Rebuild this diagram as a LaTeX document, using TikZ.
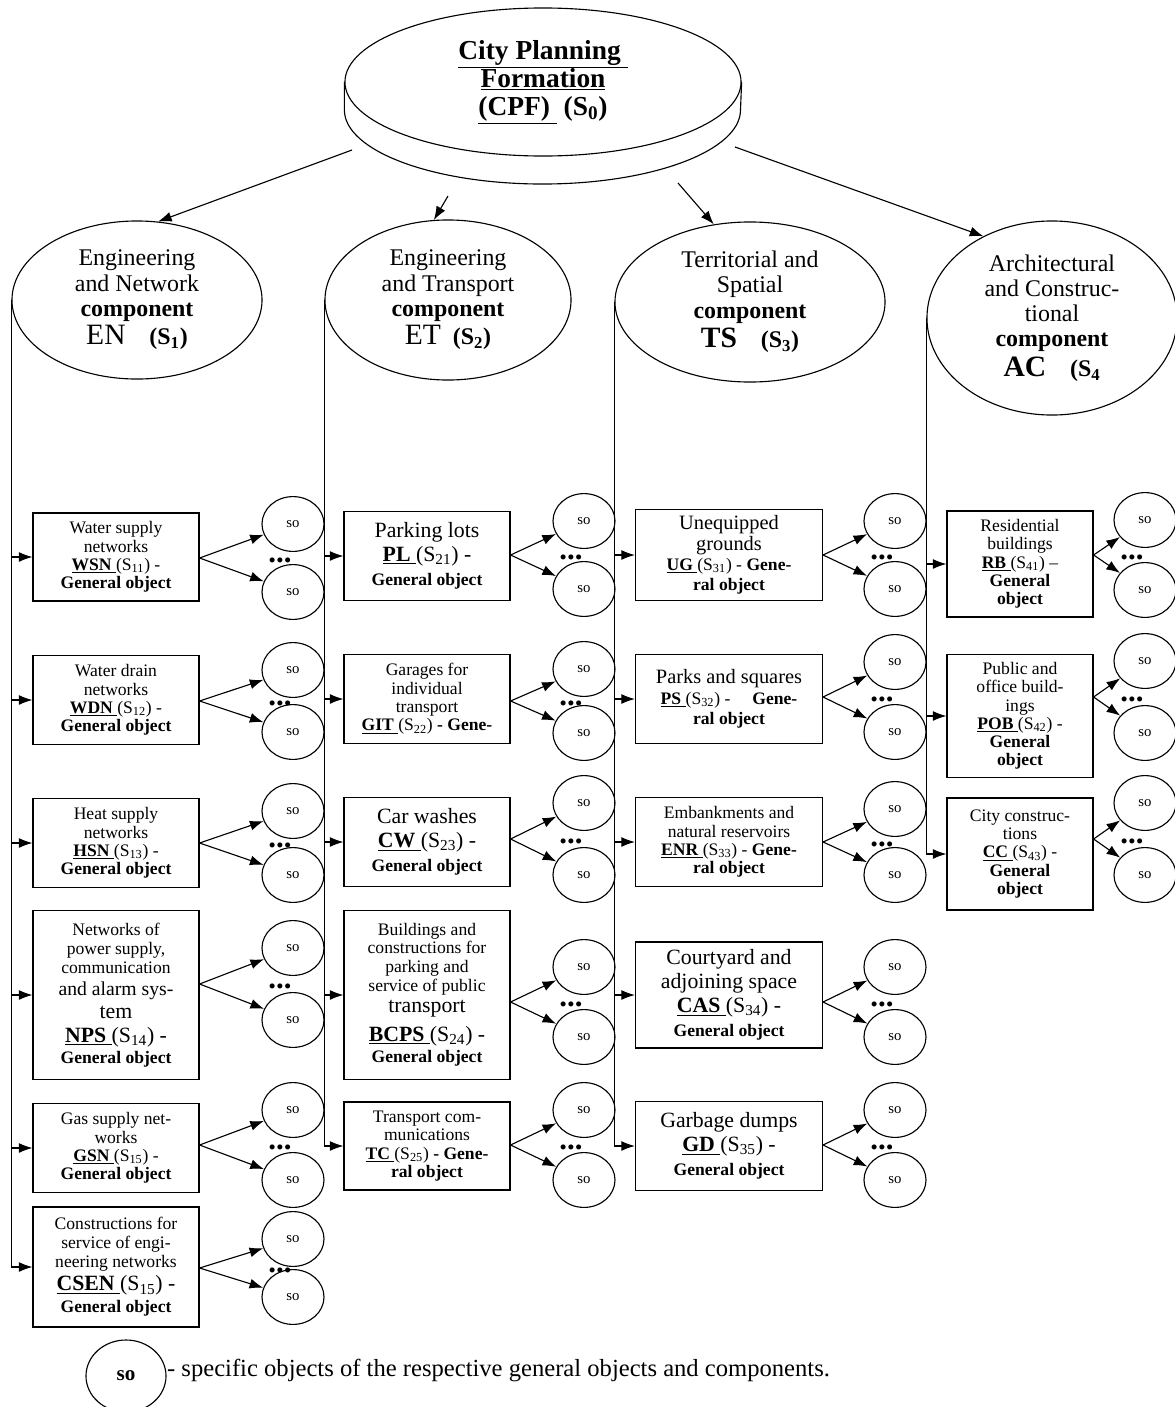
\documentclass[tikz,border=0pt]{standalone}
\usepackage{fontspec}
\setmainfont{Liberation Serif}
\usetikzlibrary{arrows.meta, shapes.geometric, positioning}

\newcommand{\abbr}[1]{\underline{\textbf{#1}\ }}
\newcommand{\gobj}{{\fontsize{12.5}{13}\selectfont\textbf{General object}}}
\newcommand{\bigtxt}{\fontsize{15.5}{17}\selectfont}
\newcommand{\midtxt}{\fontsize{14.5}{14.5}\selectfont}
\newcommand{\smalltxt}{\fontsize{12.5}{13}\selectfont}

\begin{document}
\begin{tikzpicture}[x=0.025cm, y=-0.025cm, thick, >={Latex[length=3.4mm, width=2.5mm]},
  box node/.style={draw, rectangle, align=center, inner sep=1pt, font=\smalltxt},
  col1 node/.style={box node, minimum width=4.15cm},
  col3 node/.style={box node, minimum width=4.675cm},
  col4 node/.style={box node, minimum width=3.65cm},
  big text/.style={font=\bigtxt},
  mid text/.style={font=\midtxt},
  so node/.style={draw, ellipse, minimum width=1.55cm, minimum height=1.37cm, inner sep=0pt, font=\fontsize{10.5}{12}\selectfont},
  comp node/.style={draw, ellipse, align=center, inner sep=0pt, font=\fontsize{17}{18}\selectfont},
  dots node/.style={anchor=base, inner sep=0pt, font=\bfseries\fontsize{22}{22}\selectfont}]

\useasboundingbox (0,0) rectangle (1175,1407);

\node[draw, ellipse, minimum width=9.9cm, minimum height=3.7cm, align=center, font=\bfseries\fontsize{19.5}{20}\selectfont] (cpf) at (543,82)
  {\underline{City Planning }\\ \underline{Formation}\\ \underline{(CPF) } (S\textsubscript{0})};
\draw (cpf.west) -- ++(0,28) arc[start angle=180, end angle=360, x radius=4.95cm, y radius=1.85cm] -- (cpf.east);

\node[comp node, minimum width=6.25cm, minimum height=3.95cm] (en) at (137,300)
  {Engineering\\ and Network\\ \textbf{component}\\[2pt] {\fontsize{21}{22}\selectfont EN}\quad\textbf{(S\textsubscript{1})}};
\node[comp node, minimum width=6.15cm, minimum height=4cm] (et) at (448,300)
  {Engineering\\ and Transport\\ \textbf{component}\\[2pt] {\fontsize{21}{22}\selectfont ET}\enspace\textbf{(S\textsubscript{2})}};
\node[comp node, minimum width=6.75cm, minimum height=4cm] (ts) at (750,302)
  {Territorial and\\ Spatial\\ \textbf{component}\\[3pt] {\fontsize{21}{22}\selectfont\textbf{TS}}\quad\textbf{(S\textsubscript{3})}};
\node[comp node, minimum width=6.25cm, minimum height=4.85cm] (ac) at (1052,318)
  {Architectural\\ and Construc-\\ tional\\ \textbf{component}\\[3pt] {\fontsize{21}{22}\selectfont\textbf{AC}}\quad\textbf{(S\textsubscript{4}}};

\coordinate (rim en) at (352,150);
\coordinate (rim et) at (448,196);
\coordinate (rim ts) at (678,183);
\coordinate (rim ac) at (735,147);
\draw[->] (rim en) -- (en.75);
\draw[->] (rim et) -- (et.100);
\draw[->] (rim ts) -- (ts.115);
\draw[->] (rim ac) -- (ac.130);

\node[col1 node, minimum height=2.2cm] (wsn) at (116,557) {Water supply\\ networks\\ \abbr{WSN}(S\textsubscript{11}) -\\ \gobj};
\node[col1 node, minimum height=2.225cm] (wdn) at (116,700) {Water drain\\ networks\\ \abbr{WDN}(S\textsubscript{12}) -\\ \gobj};
\node[col1 node, minimum height=2.225cm] (hsn) at (116,843) {Heat supply\\ networks\\ \abbr{HSN}(S\textsubscript{13}) -\\ \gobj};
\node[col1 node, minimum height=4.225cm] (nps) at (116,995) {Networks of\\[0.5pt] power supply,\\[0.5pt] communication\\[2.5pt] {\fontsize{14}{16}\selectfont and alarm sys-}\\[3.5pt] {\bigtxt tem}\\[4pt] {\bigtxt\abbr{NPS}(S\textsubscript{14}) -}\\[2pt] \gobj};
\node[col1 node, minimum height=2.225cm] (gsn) at (116,1148) {Gas supply net-\\ works\\ \abbr{GSN}(S\textsubscript{15}) -\\ \gobj};
\node[col1 node, minimum height=3cm] (csen) at (116,1267) {Constructions for\\ service of engi-\\[0.5pt] neering networks\\[2.5pt] {\bigtxt\abbr{CSEN}(S\textsubscript{15}) -}\\[2.5pt] \gobj};

\node[col1 node, big text, minimum height=2.225cm] (pl) at (427,556) {Parking lots\\ \abbr{PL}(S\textsubscript{21}) -\\ \gobj};
\node[col1 node, minimum height=2.225cm] (git) at (427,699) {Garages for\\ individual\\ transport\\ \abbr{GIT}(S\textsubscript{22}) \textbf{- Gene-}};
\node[col1 node, big text, minimum height=2.225cm] (cw) at (427,842) {Car washes\\ \abbr{CW}(S\textsubscript{23}) -\\ \gobj};
\node[col1 node, minimum height=4.225cm] (bcps) at (427,995) {Buildings and\\ constructions for\\ parking and\\[0.5pt] service of public\\[2pt] {\bigtxt transport}\\[5.5pt] {\bigtxt\abbr{BCPS}(S\textsubscript{24}) -}\\[2.5pt] \gobj};
\node[col1 node, minimum height=2.2cm] (tc) at (427,1146) {Transport com-\\ munications\\ \abbr{TC}(S\textsubscript{25}) \textbf{- Gene-}\\ \textbf{ral object}};

\node[col3 node, mid text, minimum height=2.275cm] (ug) at (729,555) {Unequipped\\ grounds\\ {\smalltxt\abbr{UG}(S\textsubscript{31}) - \textbf{Gene-}}\\ {\smalltxt\textbf{ral object}}};
\node[col3 node, mid text, minimum height=2.225cm] (ps) at (729,699) {Parks and squares\\ {\smalltxt\abbr{PS}(S\textsubscript{32}) - \quad\textbf{Gene-}}\\ {\smalltxt\textbf{ral object}}};
\node[col3 node, minimum height=2.225cm] (enr) at (729,842) {Embankments and\\ natural reservoirs\\ \abbr{ENR}(S\textsubscript{33}) - \textbf{Gene-}\\ \textbf{ral object}};
\node[col3 node, big text, minimum height=2.65cm] (cas) at (729,995) {Courtyard and\\ adjoining space\\ \abbr{CAS}(S\textsubscript{34}) -\\ \gobj};
\node[col3 node, big text, minimum height=2.225cm] (gd) at (729,1146) {Garbage dumps\\ \abbr{GD}(S\textsubscript{35}) -\\ \gobj};

\node[col4 node, minimum height=2.65cm] (rb) at (1020,564) {Residential\\ buildings\\ \abbr{RB}(S\textsubscript{41}) --\\ \textbf{General}\\ \textbf{object}};
\node[col4 node, minimum height=3.075cm] (pob) at (1020,716) {Public and\\ office build-\\ ings\\ \abbr{POB}(S\textsubscript{42}) -\\ \textbf{General}\\ \textbf{object}};
\node[col4 node, minimum height=2.8cm] (cc) at (1020,854) {City construc-\\ tions\\ \abbr{CC}(S\textsubscript{43}) -\\ \textbf{General}\\ \textbf{object}};

\draw (en.west) -- (en.west |- csen.west);
\foreach \b in {wsn, wdn, hsn, nps, gsn, csen}
  \draw[->] (en.west |- \b.west) -- (\b.west);
\draw[->] (et.west) |- (tc.west);
\foreach \b in {pl, git, cw, bcps}
  \draw[->] (et.west |- \b.west) -- (\b.west);
\draw[->] (ts.west) |- (gd.west);
\foreach \b in {ug, ps, enr, cas}
  \draw[->] (ts.west |- \b.west) -- (\b.west);
\draw[->] (ac.west) |- (cc.west);
\foreach \b in {rb, pob}
  \draw[->] (ac.west |- \b.west) -- (\b.west);

\foreach \b/\sx/\sy/\d in {wsn/293/558/34, wdn/293/701/31, hsn/293/843/32, nps/293/984/36, gsn/293/1145/35, csen/293/1268/29,
    pl/584/555/34, git/584/701/32, cw/584/839/36, bcps/584/1002/35, tc/584/1145/35,
    ug/895/555/34, ps/895/697/35, enr/895/842/33, cas/895/1002/35, gd/895/1145/35,
    rb/1145/555/35, pob/1145/697/36, cc/1145/839/36}{
  \coordinate (\b-fork) at (\b.east |- 0,\sy);
  \node[so node] (\b-up) at (\sx,\sy-\d) {so};
  \node[so node] (\b-dn) at (\sx,\sy+\d) {so};
  \node[dots node] (\b-dots) at (\sx-13,\sy+4) {...};
  \draw[->] (\b-fork) -- (\b-up);
  \draw[->] (\b-fork) -- (\b-dn);
}

\node[draw, ellipse, minimum width=2cm, minimum height=1.8cm, font=\bfseries\fontsize{15}{16}\selectfont] (legend-so) at (126,1376) {so};
\node[anchor=west, inner sep=0pt, yshift=0.15cm, font=\fontsize{17.5}{19}\selectfont] (legend-text) at (legend-so.east)
  {- specific objects of the respective general objects and components.};
\end{tikzpicture}
\end{document}
